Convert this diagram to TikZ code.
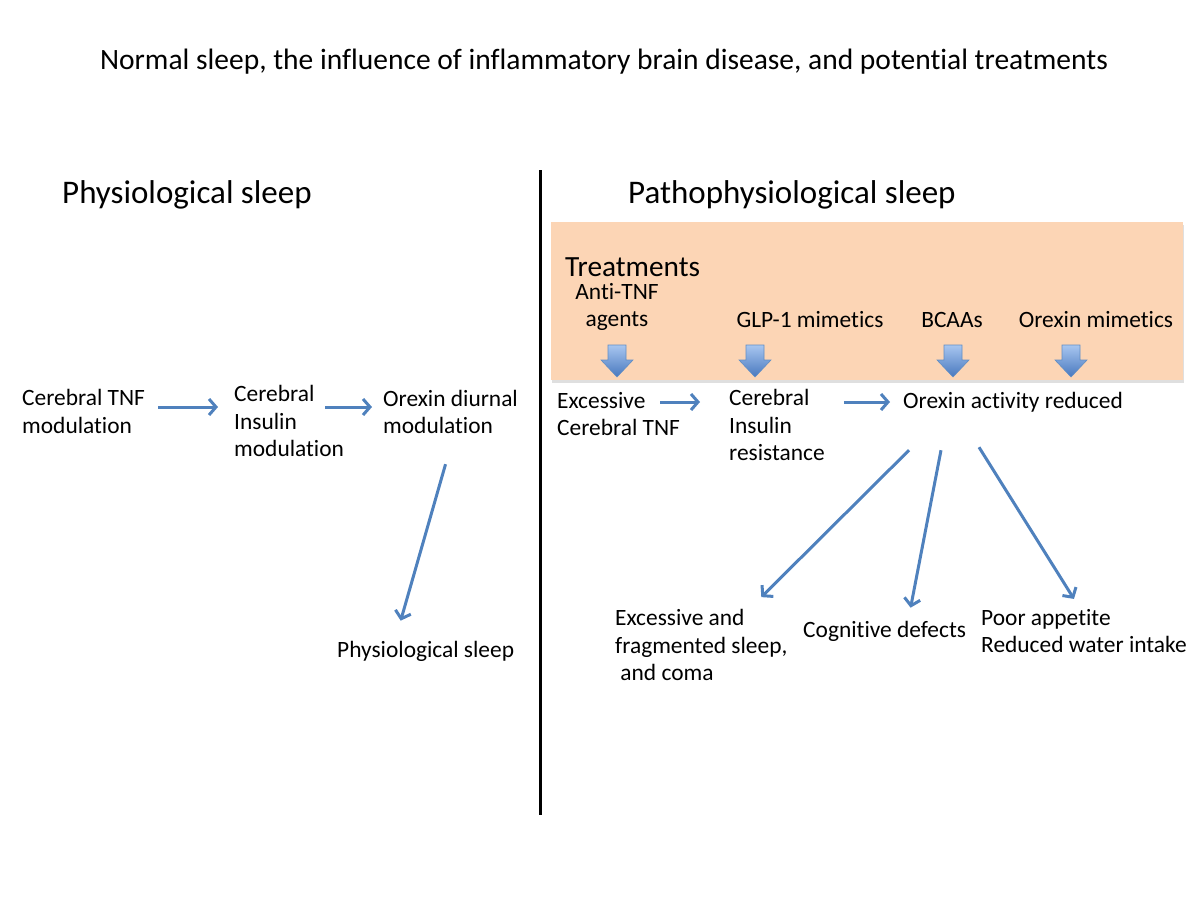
\documentclass[tikz,border=0pt]{standalone}
\usepackage{fontspec}
\setmainfont{Carlito}[Ligatures=NoCommon]
\usetikzlibrary{arrows.meta,calc,shadows}
\definecolor{peach}{RGB}{252,213,181}
\definecolor{arrowblue}{RGB}{79,129,189}
\definecolor{lightblue}{RGB}{168,198,240}
\definecolor{darkblue}{RGB}{72,120,190}

\begin{document}
\begin{tikzpicture}[x=1pt,y=-1pt,
  txt/.style={inner sep=0pt, align=left, anchor=west, font=\fontsize{23.4}{27.5}\selectfont},
  conn/.style={draw=arrowblue, line width=3pt, -{Straight Barb[length=7pt,width=16pt]}},
  treat/.style={top color=lightblue, bottom color=darkblue, draw=arrowblue!90, line width=0.6pt}]
  \useasboundingbox (0,0) rectangle (1200,900);

  % Titel
  \node (title) at (604,62) {\fontsize{29.5}{34}\selectfont Normal sleep, the influence of inflammatory brain disease, and potential treatments};

  % Trennlinie
  \draw[line width=3pt] (540,170) -- (540,815);

  % Ueberschriften
  \node[anchor=west, inner sep=0pt, font=\fontsize{33}{38}\selectfont] (physH) at (62,195) {Physiological sleep};
  \node[anchor=west, inner sep=0pt, font=\fontsize{33}{38}\selectfont] (pathH) at (628,195) {Pathophysiological sleep};

  % Behandlungen
  \path[fill=peach, drop shadow={shadow xshift=1pt, shadow yshift=-3pt, opacity=0.25}] (551,222) rectangle (1183,380);
  \node[anchor=west, inner sep=0pt, font=\fontsize{29.3}{33}\selectfont] (treatT) at (565,267) {Treatments};
  \node[txt, anchor=center, align=center] (antiT) at (617,307) {Anti-TNF\\agents};
  \node[txt, anchor=center] (glpT) at (810,320) {GLP-1 mimetics};
  \node[txt, anchor=center] (bcaaT) at (952,320) {BCAAs};
  \node[txt, anchor=center] (orxT) at (1096,320) {Orexin mimetics};
  \foreach \x in {617,755,953,1071}
    \path[treat] (\x-9,345) -- (\x+9,345) -- (\x+9,360) -- (\x+16,360) -- (\x,377)
      -- (\x-16,360) -- (\x-9,360) -- cycle;

  % Physiologisch
  \node[txt] (tnfL) at (22,411.5) {Cerebral TNF\\modulation};
  \node[txt] (insL) at (234,421) {Cerebral\\Insulin\\modulation};
  \node[txt] (orxL) at (383,412) {Orexin diurnal\\modulation};
  \node[txt] (sleepL) at (337,651) {Physiological sleep};

  \draw[conn, shorten <=13pt, shorten >=16pt] (tnfL.east |- 0,407) -- (insL.west |- 0,407);
  \draw[conn, shorten >=11pt] ($(orxL.west |- 0,407)+(-58,0)$) -- (orxL.west |- 0,407);
  \draw[conn] ($(orxL.south)+(-5,30)$) -- ($(sleepL.north)+(-25,-20)$);

  % Pathophysiologisch
  \node[txt] (excR) at (557,414) {Excessive\\Cerebral TNF};
  \node[txt] (insR) at (729,425) {Cerebral\\Insulin\\resistance};
  \node[txt] (orxR) at (903,402) {Orexin activity reduced};
  \node[txt] (fragR) at (615,645) {Excessive and\\fragmented sleep,\\~and coma};
  \node[txt] (cogR) at (803,631) {Cognitive defects};
  \node[txt] (poorR) at (981,631) {Poor appetite\\Reduced water intake};

  \draw[conn, shorten >=29pt] ($(insR.west |- orxR)+(-69,0)$) -- (insR.west |- orxR);
  \draw[conn, shorten <=19pt, shorten >=13pt] (insR.east |- orxR) -- (orxR.west);
  \draw[conn] ($(orxR.south)+(-104,38)$) -- ($(fragR.north)+(60,-12)$);
  \draw[conn] ($(orxR.south)+(-72,38)$) -- ($(cogR.north)+(26,-13)$);
  \draw[conn] ($(orxR.south)+(-34,35)$) -- ($(poorR.north)+(-10,-10)$);
\end{tikzpicture}
\end{document}
